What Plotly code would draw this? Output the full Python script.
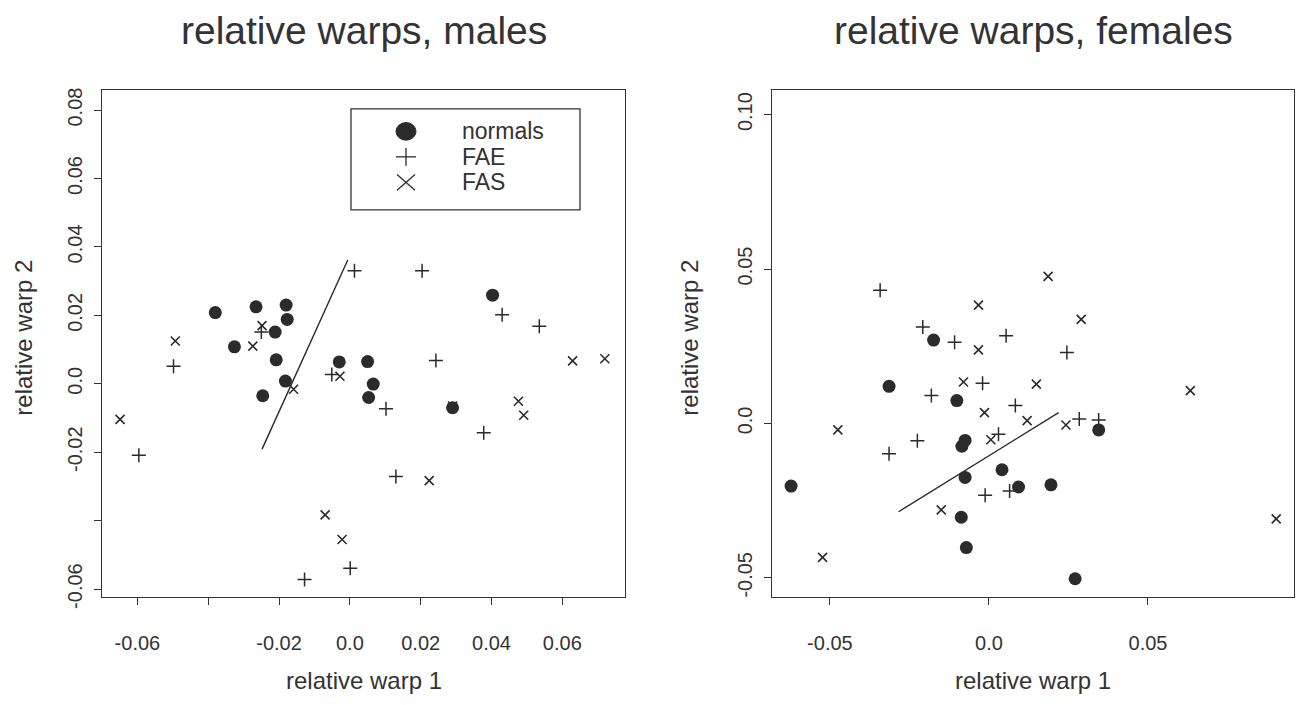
import plotly.graph_objects as go

W, H = 1300, 705

# ---------------- data: males ----------------
m_norm_x = [-0.038, -0.0265, -0.018, -0.0177, -0.0211, -0.0326, -0.0208, -0.0182, -0.0246,
            -0.003, 0.005, 0.0066, 0.0053, 0.029, 0.0403]
m_norm_y = [0.0208, 0.0225, 0.023, 0.0188, 0.0151, 0.0108, 0.007, 0.0008, -0.0035,
            0.0064, 0.0065, -0.0001, -0.004, -0.007, 0.0259]
m_fae_x = [0.0013, 0.0204, 0.043, 0.0535, -0.025, -0.0498, -0.0051, 0.0243, 0.0102,
           0.0378, -0.0596, 0.013, 0.0001, -0.0128]
m_fae_y = [0.033, 0.033, 0.0202, 0.0168, 0.0151, 0.0051, 0.0027, 0.0068, -0.0073,
           -0.0143, -0.0209, -0.0271, -0.0539, -0.0572]
m_fas_x = [-0.0248, -0.0493, -0.0274, -0.0028, -0.0159, -0.0649, 0.0629, 0.072, 0.029,
           0.0476, 0.0491, 0.0224, -0.007, -0.0022]
m_fas_y = [0.017, 0.0125, 0.011, 0.0022, -0.0016, -0.0104, 0.0067, 0.0073, -0.0065,
           -0.0051, -0.0092, -0.0283, -0.0383, -0.0455]
m_line_x = [-0.0248, -0.0006]
m_line_y = [-0.0191, 0.0362]

# ---------------- data: females ----------------
f_norm_x = [-0.0314, -0.0174, -0.0101, -0.0075, -0.0085, 0.0041, -0.0622, -0.0075, 0.0093,
            -0.0087, -0.0071, 0.0345, 0.0195, 0.0271]
f_norm_y = [0.012, 0.027, 0.0074, -0.0055, -0.0074, -0.015, -0.0203, -0.0175, -0.0206,
            -0.0304, -0.0402, -0.0021, -0.0199, -0.0503]
f_fae_x = [-0.0342, -0.0208, -0.0108, 0.0054, 0.0245, -0.002, -0.0181, 0.0083, -0.0225,
           0.003, -0.0314, -0.0012, 0.0065, 0.0284, 0.0345]
f_fae_y = [0.0431, 0.0312, 0.0263, 0.0284, 0.023, 0.013, 0.009, 0.0058, -0.0056,
           -0.0035, -0.0098, -0.0233, -0.0219, 0.0014, 0.0011]
f_fas_x = [-0.0033, -0.0033, 0.0186, 0.029, -0.008, -0.0014, -0.0475, 0.0006, -0.015,
           -0.0523, 0.0149, 0.0633, 0.012, 0.0242, 0.0903]
f_fas_y = [0.0383, 0.0238, 0.0476, 0.0337, 0.0134, 0.0035, -0.0021, -0.0053, -0.028,
           -0.0434, 0.0127, 0.0106, 0.0009, -0.0005, -0.0309]
f_line_x = [-0.0284, 0.0219]
f_line_y = [-0.0286, 0.0035]

# ---------------- ticks / labels ----------------
m_xticks = [-0.06, -0.04, -0.02, 0.0, 0.02, 0.04, 0.06]
m_xtext = ["-0.06", "", "-0.02", "0.0", "0.02", "0.04", "0.06"]
m_yticks = [-0.06, -0.04, -0.02, 0.0, 0.02, 0.04, 0.06, 0.08]
m_ytext = ["-0.06", "", "-0.02", "0.0", "0.02", "0.04", "0.06", "0.08"]
f_xticks = [-0.05, 0.0, 0.05]
f_xtext = ["-0.05", "0.0", "0.05"]
f_yticks = [-0.05, 0.0, 0.05, 0.10]
f_ytext = ["-0.05", "0.0", "0.05", "0.10"]

titles = ["relative warps, males", "relative warps, females"]
xlab = "relative warp 1"
ylab = "relative warp 2"
legend_labels = ["normals", "FAE", "FAS"]

INK = "#2b2b2b"
FONT = "Liberation Sans, Arial, Helvetica, sans-serif"

def px(x):
    return x / W

def py(y):
    return 1 - y / H

fig = go.Figure()

def add_panel(xa, ya, nx, ny, ax, ay, sx, sy, lx, ly):
    fig.add_trace(go.Scatter(x=nx, y=ny, mode="markers", xaxis=xa, yaxis=ya,
                             marker=dict(symbol="circle", size=13, color=INK),
                             showlegend=False, hoverinfo="skip"))
    fig.add_trace(go.Scatter(x=ax, y=ay, mode="markers", xaxis=xa, yaxis=ya,
                             marker=dict(symbol="cross-thin", size=10,
                                         line=dict(color=INK, width=1.5)),
                             showlegend=False, hoverinfo="skip"))
    fig.add_trace(go.Scatter(x=sx, y=sy, mode="markers", xaxis=xa, yaxis=ya,
                             marker=dict(symbol="x-thin", size=9,
                                         line=dict(color=INK, width=1.6)),
                             showlegend=False, hoverinfo="skip"))
    fig.add_trace(go.Scatter(x=lx, y=ly, mode="lines", xaxis=xa, yaxis=ya,
                             line=dict(color=INK, width=1.4),
                             showlegend=False, hoverinfo="skip"))

add_panel("x", "y", m_norm_x, m_norm_y, m_fae_x, m_fae_y, m_fas_x, m_fas_y, m_line_x, m_line_y)
add_panel("x2", "y2", f_norm_x, f_norm_y, f_fae_x, f_fae_y, f_fas_x, f_fas_y, f_line_x, f_line_y)

axis_common = dict(showline=True, mirror=True, linecolor="#333", linewidth=1.2,
                   ticks="outside", ticklen=7, tickcolor="#333", tickwidth=1,
                   showgrid=False, zeroline=False, tickmode="array",
                   tickfont=dict(family=FONT, size=20, color="#333"))

top, bottom = 90, 607
fig.update_layout(
    width=W, height=H, margin=dict(l=0, r=0, t=0, b=0),
    paper_bgcolor="white", plot_bgcolor="white", showlegend=False,
    xaxis=dict(domain=[px(102), px(625)], range=[-0.0700, 0.0777], anchor="y",
               tickvals=m_xticks, ticktext=m_xtext, ticklabelstandoff=21, **axis_common),
    yaxis=dict(domain=[py(bottom), py(top)], range=[-0.0623, 0.0858], anchor="x",
               tickvals=m_yticks, ticktext=m_ytext, tickangle=-90, ticklabelstandoff=4,
               **axis_common),
    xaxis2=dict(domain=[px(772), px(1294)], range=[-0.0682, 0.0959], anchor="y2",
                tickvals=f_xticks, ticktext=f_xtext, ticklabelstandoff=21, **axis_common),
    yaxis2=dict(domain=[py(bottom), py(top)], range=[-0.0562, 0.1079], anchor="x2",
                tickvals=f_yticks, ticktext=f_ytext, tickangle=-90, ticklabelstandoff=4,
                **axis_common),
)

# titles and axis labels
for cx, t in [((102 + 625) / 2, titles[0]), ((772 + 1294) / 2, titles[1])]:
    fig.add_annotation(x=px(cx), y=py(29), xref="paper", yref="paper", text=t,
                       showarrow=False, xanchor="center", yanchor="middle",
                       font=dict(family=FONT, size=39, color="#333"))
    fig.add_annotation(x=px(cx), y=py(692), xref="paper", yref="paper", text=xlab,
                       showarrow=False, xanchor="center", yanchor="middle",
                       font=dict(family=FONT, size=24, color="#333"))
for cx in [24, 690]:
    fig.add_annotation(x=px(cx), y=py((top + bottom) / 2 - 6), xref="paper", yref="paper",
                       text=ylab, textangle=-90, showarrow=False,
                       xanchor="center", yanchor="middle",
                       font=dict(family=FONT, size=24, color="#333"))

# legend box (left panel)
fig.add_shape(type="rect", xref="paper", yref="paper",
              x0=px(351), x1=px(580), y0=py(212), y1=py(109),
              line=dict(color="#333", width=1.3), fillcolor="white", layer="below")
sym_x = 406
ys = [132, 158, 184]
fig.add_shape(type="circle", xref="paper", yref="paper",
              x0=px(sym_x - 10), x1=px(sym_x + 10), y0=py(ys[0] + 9), y1=py(ys[0] - 9),
              fillcolor=INK, line=dict(color=INK, width=1))
fig.add_shape(type="line", xref="paper", yref="paper",
              x0=px(sym_x - 10), x1=px(sym_x + 10), y0=py(ys[1]), y1=py(ys[1]),
              line=dict(color=INK, width=1.3))
fig.add_shape(type="line", xref="paper", yref="paper",
              x0=px(sym_x), x1=px(sym_x), y0=py(ys[1] - 9), y1=py(ys[1] + 9),
              line=dict(color=INK, width=1.3))
fig.add_shape(type="line", xref="paper", yref="paper",
              x0=px(sym_x - 9), x1=px(sym_x + 9), y0=py(ys[2] - 8), y1=py(ys[2] + 8),
              line=dict(color=INK, width=1.3))
fig.add_shape(type="line", xref="paper", yref="paper",
              x0=px(sym_x - 9), x1=px(sym_x + 9), y0=py(ys[2] + 8), y1=py(ys[2] - 8),
              line=dict(color=INK, width=1.3))
for lab, yy in zip(legend_labels, ys):
    fig.add_annotation(x=px(460), y=py(yy), xref="paper", yref="paper", text=lab,
                       showarrow=False, xanchor="left", yanchor="middle",
                       font=dict(family=FONT, size=23, color="#333"))

fig.write_html("out.html")
